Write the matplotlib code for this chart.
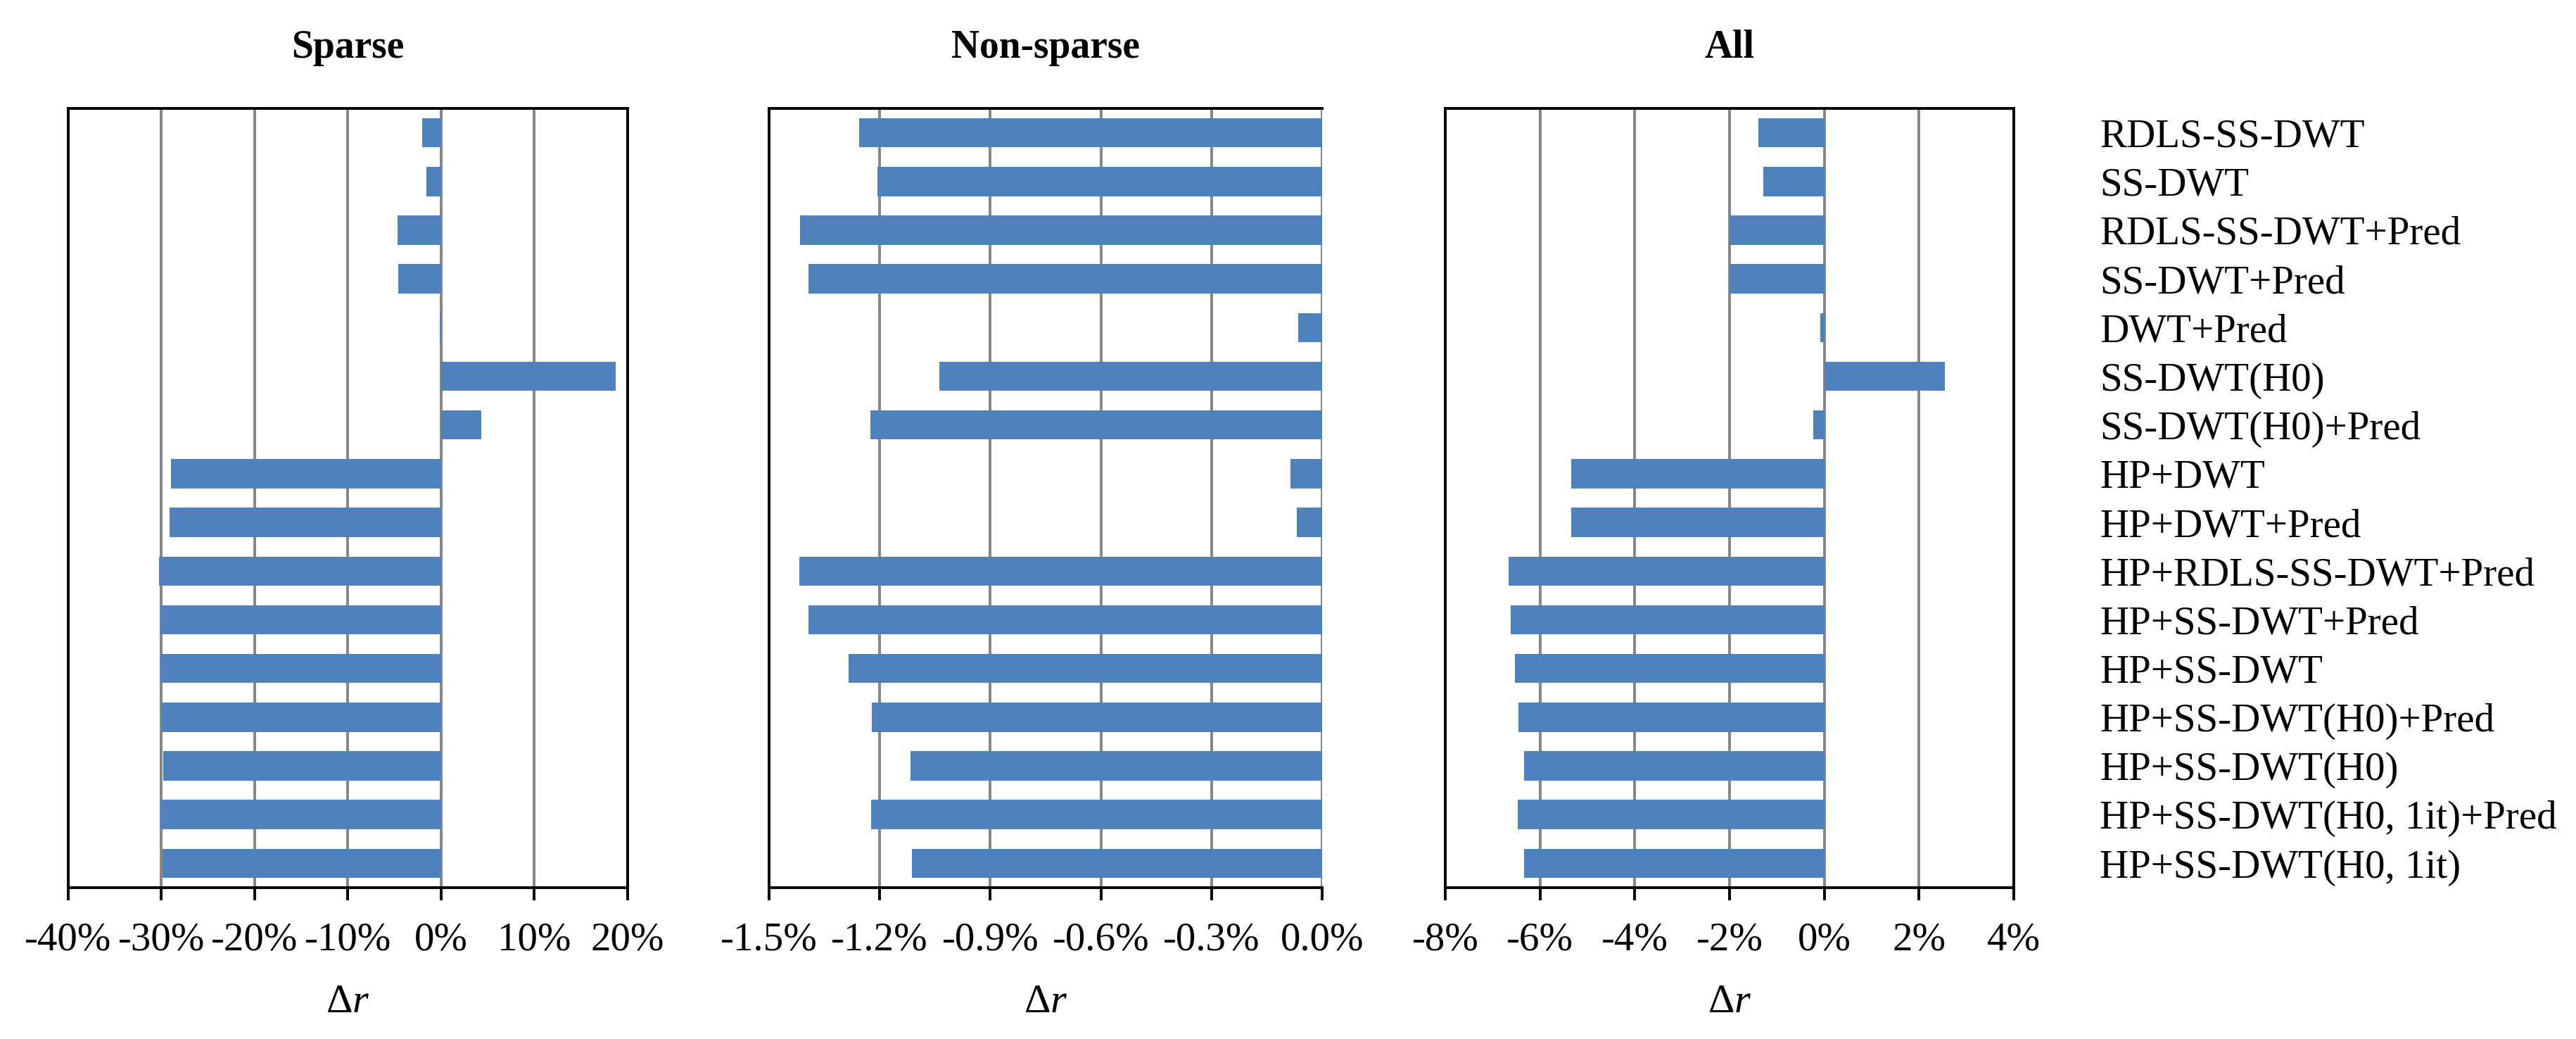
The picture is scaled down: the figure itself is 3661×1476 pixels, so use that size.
import numpy as np
import matplotlib
matplotlib.use("Agg")
import matplotlib.pyplot as plt

plt.rcParams['font.family'] = ['Liberation Serif', 'DejaVu Serif']
plt.rcParams['mathtext.fontset'] = 'custom'
plt.rcParams['mathtext.rm'] = 'Liberation Serif'
plt.rcParams['mathtext.it'] = 'Liberation Serif:italic'

# methods, top to bottom
methods = ["RDLS-SS-DWT", "SS-DWT", "RDLS-SS-DWT+Pred", "SS-DWT+Pred",
           "DWT+Pred", "SS-DWT(H0)", "SS-DWT(H0)+Pred", "HP+DWT",
           "HP+DWT+Pred", "HP+RDLS-SS-DWT+Pred", "HP+SS-DWT+Pred",
           "HP+SS-DWT", "HP+SS-DWT(H0)+Pred", "HP+SS-DWT(H0)",
           "HP+SS-DWT(H0, 1it)+Pred", "HP+SS-DWT(H0, 1it)"]

# delta r in percent
sparse = [-2.0, -1.6, -4.7, -4.6, -0.15, 18.7, 4.3, -29.0,
          -29.1, -30.3, -30.1, -30.1, -30.0, -29.8, -30.1, -29.85]
nonsparse = [-1.255, -1.207, -1.416, -1.393, -0.065, -1.039, -1.225, -0.085,
             -0.068, -1.418, -1.393, -1.285, -1.221, -1.117, -1.224, -1.113]
all_imgs = [-1.39, -1.28, -2.0, -2.0, -0.08, 2.55, -0.23, -5.34,
            -5.34, -6.66, -6.62, -6.53, -6.46, -6.33, -6.47, -6.33]

sparse_ticks = [-40, -30, -20, -10, 0, 10, 20]
nonsparse_ticks = [-1.5, -1.2, -0.9, -0.6, -0.3, 0.0]
all_ticks = [-8, -6, -4, -2, 0, 2, 4]

blue = "#4F81BD"
W, H = 3662, 1476

fig = plt.figure(figsize=(W / 100, H / 100), dpi=100)


def panel(left, right, values, ticks, fmt, title, right_spine=True):
    ax = fig.add_axes([left / W, 1 - 1261 / H, (right - left) / W, (1261 - 154) / H])
    y = np.arange(len(values))
    ax.barh(y, values, height=0.6, color=blue, zorder=3)
    ax.set_ylim(len(values) - 0.5, -0.5)
    ax.set_xlim(ticks[0], ticks[-1])
    ax.set_xticks(ticks)
    ax.set_xticklabels([fmt.format(t) for t in ticks])
    ax.set_yticks([])
    ax.xaxis.grid(True, color="#858585", linewidth=2.8, zorder=0)
    ax.set_axisbelow(True)
    for s in ax.spines.values():
        s.set_linewidth(2.8)
        s.set_color("black")
        s.set_zorder(4)
    if not right_spine:
        ax.spines['right'].set_visible(False)
    ax.tick_params(axis='x', direction='out', length=13, width=2.8,
                   labelsize=41, pad=22)
    ax.set_xlabel(u"\u0394$\\mathit{r}$", fontsize=42, labelpad=26)
    ax.set_title(title, fontsize=40, fontweight='bold', pad=52)
    return ax


panel(97, 892, sparse, sparse_ticks, "{:.0f}%", "Sparse")
panel(1093, 1879, nonsparse, nonsparse_ticks, "{:.1f}%", "Non-sparse", right_spine=False)
ax3 = panel(2054, 2862, all_imgs, all_ticks, "{:.0f}%", "All")

# category names on the right of the last panel
ax3.set_yticks(np.arange(len(methods)))
ax3.set_yticklabels(methods)
ax3.tick_params(axis='y', left=False, labelleft=False, right=False,
                labelright=True, length=0, pad=88, labelsize=41)
for lab in ax3.get_yticklabels():
    lab.set_horizontalalignment('left')

fig.savefig("out.png", dpi=100)
